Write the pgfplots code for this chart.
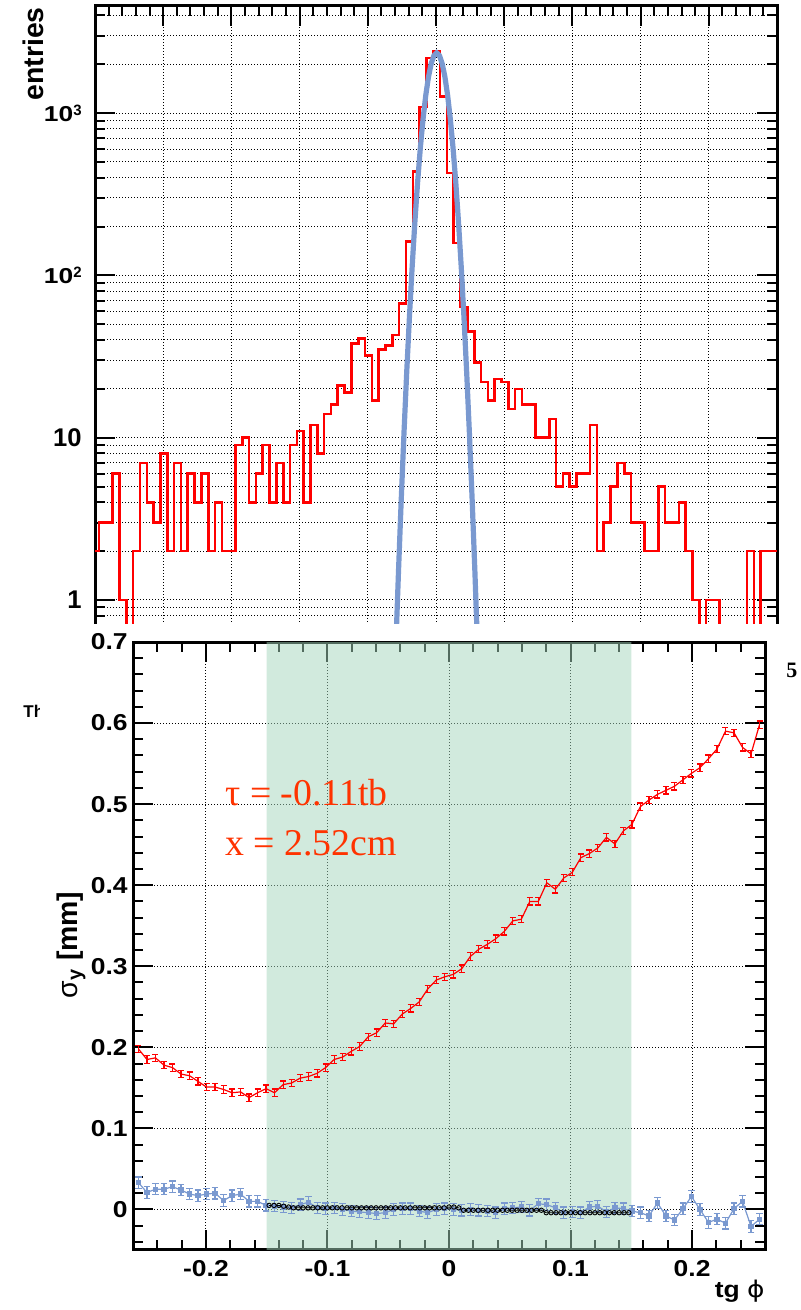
\documentclass[border=0pt]{standalone}
\usepackage{pgfplots}
\pgfplotsset{compat=1.18}
\usepackage{fontspec}
\setmainfont{Liberation Sans}
\newfontfamily\serif{Liberation Serif}
\newfontfamily\dejavu{DejaVu Sans}
\usepackage{graphicx}

\definecolor{histred}{RGB}{255,0,0}
\definecolor{fitblue}{RGB}{122,153,208}
\definecolor{mint}{RGB}{165,215,188}
\definecolor{annot}{RGB}{255,51,0}

\newcommand{\tl}[1]{\scalebox{1.15}[1]{#1}}
\newcommand{\pw}[1]{\scalebox{1.22}[1]{\fontsize{10.8}{11}\selectfont\bfseries 10}\raisebox{3pt}{\fontsize{7.5}{8}\selectfont\bfseries #1}}
\newcommand{\BigLab}[1]{{\fontsize{12.8}{13}\selectfont\bfseries #1}}

\pgfplotsset{
  rootgrid/.style={black, line width=0.5pt, dash pattern=on 0.5pt off 1pt},
}

\begin{document}
\begin{tikzpicture}
\useasboundingbox (0,0) rectangle (400pt,-655pt);
% ---------------- top panel -----------------
\begin{axis}[
  at={(47.5pt,-3pt)}, anchor=north west,
  scale only axis, width=341pt, height=321.4pt,
  xmin=-0.5, xmax=0.5, ymode=log, ymin=0.5, ymax=4570,
  axis line style={line width=1.5pt},
  tick style={line width=1pt, black},
  major tick length=10pt, minor tick length=5pt,
  tick align=inside,
  xtick={-0.4,-0.3,-0.2,-0.1,0,0.1,0.2,0.3,0.4},
  minor xtick={-0.48,-0.46,-0.44,-0.42,-0.38,-0.36,-0.34,-0.32,-0.28,-0.26,-0.24,-0.22,-0.18,-0.16,-0.14,-0.12,-0.08,-0.06,-0.04,-0.02,0.02,0.04,0.06,0.08,0.12,0.14,0.16,0.18,0.22,0.24,0.26,0.28,0.32,0.34,0.36,0.38,0.42,0.44,0.46,0.48},
  xticklabel=\empty,
  ytick={1,10,100,1000},
  minor ytick={0.6,0.7,0.8,0.9,2,3,4,5,6,7,8,9,20,30,40,50,60,70,80,90,200,300,400,500,600,700,800,900,2000,3000,4000},
  yticklabels={{\BigLab{1}},{\BigLab{10}},{\pw{2}},{\pw{3}}},
  yticklabel style={inner sep=0pt, xshift=-6.5pt},
  xmajorgrids, ymajorgrids, yminorgrids,
  major grid style={rootgrid}, minor grid style={rootgrid},
]
\addplot[histred, line width=1.3pt, const plot] coordinates {
(-0.504,2) (-0.494,3) (-0.484,3) (-0.474,6) (-0.464,1) (-0.454,0.1) (-0.444,2) (-0.434,7) (-0.424,4) (-0.414,3)
(-0.404,8) (-0.394,2) (-0.384,7) (-0.374,2) (-0.364,6) (-0.354,4) (-0.344,6) (-0.334,2) (-0.324,4) (-0.314,2)
(-0.304,2) (-0.294,9) (-0.284,10) (-0.274,4) (-0.264,6) (-0.254,9) (-0.244,4) (-0.234,7) (-0.224,4) (-0.214,9)
(-0.204,11) (-0.194,4) (-0.184,12) (-0.174,8) (-0.164,14) (-0.154,16) (-0.144,21) (-0.134,19) (-0.124,38) (-0.114,41)
(-0.104,32) (-0.094,17) (-0.084,35) (-0.074,37) (-0.064,43) (-0.054,67) (-0.044,162) (-0.034,437) (-0.024,1090) (-0.014,2185)
(-0.004,2403) (0.006,1268) (0.016,427) (0.026,158) (0.036,64) (0.046,45) (0.056,29) (0.066,22) (0.076,17) (0.086,23)
(0.096,22) (0.106,15) (0.116,20) (0.126,16) (0.136,16) (0.146,10) (0.156,10) (0.166,13) (0.176,5) (0.186,6)
(0.196,5) (0.206,6) (0.216,6) (0.226,12) (0.236,2) (0.246,3) (0.256,5) (0.266,7) (0.276,6) (0.286,3)
(0.296,3) (0.306,2) (0.316,2) (0.326,5) (0.336,3) (0.346,3) (0.356,4) (0.366,2) (0.376,1) (0.386,0.1)
(0.396,1) (0.406,1) (0.416,0.1) (0.426,0.1) (0.436,0.1) (0.446,0.1) (0.456,2) (0.466,0.1) (0.476,2) (0.486,2)
(0.5,2)};
\addplot[fitblue, line width=2.6pt] coordinates {
(-0.063,0.158) (-0.059,0.505) (-0.055,1.50) (-0.051,4.14) (-0.047,10.57) (-0.043,25.1) (-0.039,55.1) (-0.035,112.4)
(-0.031,212.7) (-0.027,373.7) (-0.023,608.6) (-0.019,919.6) (-0.015,1289.2) (-0.011,1676.5) (-0.007,2022.4) (-0.003,2263.5)
(0.001,2350) (0.005,2263.5) (0.009,2022.4) (0.013,1676.5) (0.017,1289.2) (0.021,919.6) (0.025,608.6) (0.029,373.7)
(0.033,212.7) (0.037,112.4) (0.041,55.1) (0.045,25.1) (0.049,10.57) (0.053,4.14) (0.057,1.50) (0.061,0.505) (0.065,0.158)};
\end{axis}
\node[rotate=90, anchor=base east, inner sep=0pt, font=\bfseries\fontsize{14.2}{15}\selectfont] at (21.5pt,-3.5pt) {entries};
% remnants of hidden labels
\node[anchor=base west, inner sep=0pt, font=\bfseries\fontsize{8.5}{9}\selectfont] at (11.5pt,-358.5pt) {Th};
\node[anchor=base west, inner sep=0pt, font=\serif\bfseries\fontsize{11}{12}\selectfont] at (393pt,-338.5pt) {5};
% cover
\fill[white] (20pt,-312pt) rectangle (391.5pt,-656pt);
% ---------------- bottom panel -----------------
\begin{axis}[
  at={(66.5pt,-321pt)}, anchor=north west,
  scale only axis, width=316pt, height=304pt,
  xmin=-0.26, xmax=0.26, ymin=-0.05, ymax=0.7,
  axis line style={line width=1.5pt},
  tick style={line width=1pt, black},
  major tick length=10pt, minor tick length=5pt,
  tick align=inside,
  xtick={-0.2,-0.1,0,0.1,0.2},
  minor xtick={-0.24,-0.22,-0.18,-0.16,-0.14,-0.12,-0.08,-0.06,-0.04,-0.02,0.02,0.04,0.06,0.08,0.12,0.14,0.16,0.18,0.22,0.24},
  ytick={0,0.1,0.2,0.3,0.4,0.5,0.6,0.7},
  minor ytick={-0.04,-0.02,0.02,0.04,0.06,0.08,0.12,0.14,0.16,0.18,0.22,0.24,0.26,0.28,0.32,0.34,0.36,0.38,0.42,0.44,0.46,0.48,0.52,0.54,0.56,0.58,0.62,0.64,0.66,0.68},
  xmajorgrids, ymajorgrids,
  major grid style={rootgrid},
  /pgf/number format/assume math mode=true,
  scaled ticks=false,
  tick label style={font=\bfseries\fontsize{11.5}{12}\selectfont},
  xticklabel={\tl{\pgfmathprintnumber{\tick}}},
  yticklabel={\tl{\pgfmathprintnumber{\tick}}},
  xticklabel style={inner sep=0pt, yshift=-5pt},
  yticklabel style={inner sep=0pt, xshift=-2.5pt},
]
\addplot[draw=none, fill=mint, fill opacity=0.5, forget plot] coordinates {(-0.15,-0.05) (0.15,-0.05) (0.15,0.7) (-0.15,0.7) (-0.15,-0.05)};
% blue
\addplot[fitblue, line width=0.6pt, mark=square*, mark size=1pt,
  error bars/.cd, y dir=both, y fixed=0.007,
  error bar style={line width=0.6pt},
  error mark options={rotate=90, mark size=1.7pt, line width=0.6pt}]
coordinates {
(-0.2555,0.033) (-0.2485,0.021) (-0.2415,0.025) (-0.2345,0.025) (-0.2275,0.028) (-0.2205,0.024) (-0.2135,0.019) (-0.2065,0.017)
(-0.1995,0.019) (-0.1925,0.020) (-0.1855,0.011) (-0.1785,0.017) (-0.1715,0.019) (-0.1645,0.010) (-0.1575,0.010) (-0.1505,0.005)
(-0.1435,0.004) (-0.1365,0.003) (-0.1295,0.002) (-0.1225,0.006) (-0.1155,0.009) (-0.1085,0.002) (-0.1015,0.001) (-0.0945,0.002)
(-0.0875,0.000) (-0.0805,-0.002) (-0.0735,-0.003) (-0.0665,-0.004) (-0.0595,-0.005) (-0.0525,-0.004) (-0.0455,0.000) (-0.0385,0.001)
(-0.0315,0.001) (-0.0245,-0.002) (-0.0175,-0.004) (-0.0105,0.000) (-0.0035,0.001) (0.0035,0.000) (0.0105,-0.001) (0.0175,0.000)
(0.0245,-0.001) (0.0315,-0.002) (0.0385,-0.004) (0.0455,0.001) (0.0525,0.002) (0.0595,0.003) (0.0665,-0.001) (0.0735,0.007)
(0.0805,0.006) (0.0875,0.002) (0.0945,-0.004) (0.1015,-0.003) (0.1085,-0.004) (0.1155,0.003) (0.1225,0.004) (0.1295,-0.003)
(0.1365,0.002) (0.1435,0.001) (0.1505,-0.002) (0.1575,-0.004) (0.1645,-0.008) (0.1715,0.008) (0.1785,-0.008) (0.1855,-0.013)
(0.1925,0.001) (0.1995,0.016) (0.2065,0.000) (0.2135,-0.016) (0.2205,-0.012) (0.2275,-0.017) (0.2345,0.001) (0.2415,0.010)
(0.2485,-0.021) (0.2555,-0.012)};
% black circles
\addplot[black, line width=0.4pt, mark=o, mark size=1.1pt, mark options={line width=0.45pt}] coordinates {
(-0.148,0.005) (-0.144,0.005) (-0.140,0.005) (-0.136,0.004) (-0.132,0.003) (-0.128,0.002) (-0.124,0.002) (-0.120,0.002)
(-0.116,0.002) (-0.112,0.002) (-0.108,0.002) (-0.104,0.002) (-0.100,0.002) (-0.096,0.002) (-0.092,0.002) (-0.088,0.002)
(-0.084,0.002) (-0.080,0.002) (-0.076,0.002) (-0.072,0.002) (-0.068,0.002) (-0.064,0.002) (-0.060,0.002) (-0.056,0.002)
(-0.052,0.002) (-0.048,0.002) (-0.044,0.002) (-0.040,0.002) (-0.036,0.002) (-0.032,0.002) (-0.028,0.002) (-0.024,0.002)
(-0.020,0.002) (-0.016,0.002) (-0.012,0.002) (-0.008,0.002) (-0.004,0.002) (0.000,0.003) (0.004,0.003) (0.008,0.002)
(0.012,-0.001) (0.016,-0.001) (0.020,-0.001) (0.024,-0.001) (0.028,-0.001) (0.032,-0.001) (0.036,-0.001) (0.040,-0.001)
(0.044,-0.001) (0.048,-0.001) (0.052,-0.001) (0.056,-0.001) (0.060,-0.001) (0.064,-0.001) (0.068,-0.001) (0.072,-0.001)
(0.076,-0.001) (0.080,-0.004) (0.084,-0.004) (0.088,-0.004) (0.092,-0.004) (0.096,-0.004) (0.100,-0.004) (0.104,-0.004)
(0.108,-0.004) (0.112,-0.004) (0.116,-0.004) (0.120,-0.004) (0.124,-0.004) (0.128,-0.004) (0.132,-0.004) (0.136,-0.004)
(0.140,-0.004) (0.144,-0.004) (0.148,-0.004)};
% red
\addplot[histred, line width=0.6pt, mark=none,
  error bars/.cd, y dir=both, y fixed=0.0045,
  error bar style={line width=0.6pt},
  error mark options={rotate=90, mark size=1.5pt, line width=0.6pt}]
coordinates {
(-0.2555,0.198) (-0.2485,0.185) (-0.2415,0.187) (-0.2345,0.178) (-0.2275,0.175) (-0.2205,0.167) (-0.2135,0.165) (-0.2065,0.158)
(-0.1995,0.151) (-0.1925,0.151) (-0.1855,0.148) (-0.1785,0.144) (-0.1715,0.145) (-0.1645,0.138) (-0.1575,0.144) (-0.1505,0.149)
(-0.1435,0.144) (-0.1365,0.154) (-0.1295,0.156) (-0.1225,0.162) (-0.1155,0.164) (-0.1085,0.168) (-0.1015,0.175) (-0.0945,0.185)
(-0.0875,0.188) (-0.0805,0.195) (-0.0735,0.201) (-0.0665,0.213) (-0.0595,0.218) (-0.0525,0.230) (-0.0455,0.229) (-0.0385,0.241)
(-0.0315,0.248) (-0.0245,0.256) (-0.0175,0.272) (-0.0105,0.283) (-0.0035,0.287) (0.0035,0.290) (0.0105,0.297) (0.0175,0.312)
(0.0245,0.321) (0.0315,0.327) (0.0385,0.334) (0.0455,0.343) (0.0525,0.356) (0.0595,0.358) (0.0665,0.380) (0.0735,0.380)
(0.0805,0.403) (0.0875,0.395) (0.0945,0.409) (0.1015,0.416) (0.1085,0.434) (0.1155,0.439) (0.1225,0.446) (0.1295,0.459)
(0.1365,0.451) (0.1435,0.467) (0.1505,0.475) (0.1575,0.497) (0.1645,0.505) (0.1715,0.512) (0.1785,0.517) (0.1855,0.522)
(0.1925,0.530) (0.1995,0.538) (0.2065,0.545) (0.2135,0.556) (0.2205,0.568) (0.2275,0.590) (0.2345,0.588) (0.2415,0.570)
(0.2485,0.562) (0.2555,0.598)};
\end{axis}
\node[anchor=base west, inner sep=0pt, text=annot, font=\serif\fontsize{18.9}{20}\selectfont] at (112.5pt,-402.5pt) {τ = -0.11tb};
\node[anchor=base west, inner sep=0pt, text=annot, font=\serif\fontsize{18.9}{20}\selectfont] at (112.5pt,-427.5pt) {x = 2.52cm};
\node[rotate=90, anchor=base, inner sep=0pt, font=\bfseries\fontsize{14.2}{15}\selectfont] at (38.5pt,-472.5pt) {{\mdseries σ}\textsubscript{y} [mm]};
\node[anchor=base east, inner sep=0pt, font=\bfseries\fontsize{11.5}{12}\selectfont] at (382.5pt,-648.5pt) {\tl{tg {\dejavu\mdseries ϕ}}};
\end{tikzpicture}
\end{document}
